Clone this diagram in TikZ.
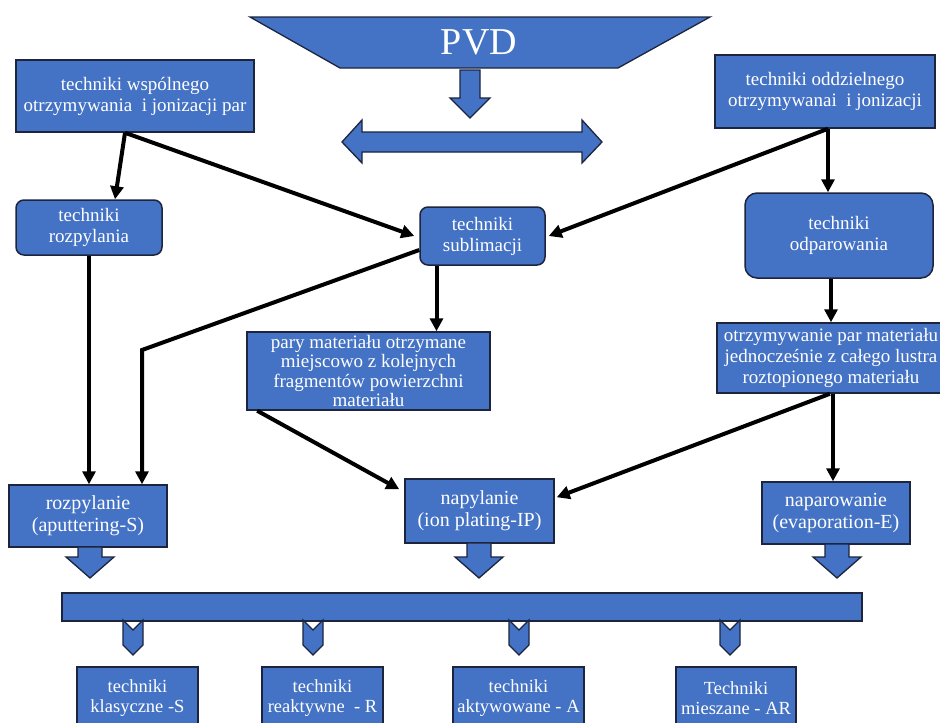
\documentclass[tikz,border=0pt]{standalone}
\usepackage{fontspec}
\setmainfont{Liberation Serif}
\usetikzlibrary{arrows.meta,calc}
\definecolor{boxblue}{RGB}{68,114,196}
\definecolor{boxedge}{RGB}{28,36,62}
\newcommand\fsz[2]{\fontsize{#1}{#2}\selectfont}
\tikzset{
  bx/.style={draw=boxedge, line width=1.5, fill=boxblue, text=white, align=center, inner sep=0, font=\fsz{19}{21}},
  rbx/.style={bx, rounded corners=8},
  sbx/.style={bx, font=\fsz{18.5}{20}},
  shapeblue/.style={draw=boxedge, line width=1.3, fill=boxblue},
  conn/.style={line width=4, -{Triangle[length=13,width=13]}},
}
\begin{document}
\begin{tikzpicture}[x=1pt,y=-1pt]
\useasboundingbox (0,0) rectangle (940,723);
% PVD header
\draw[shapeblue] (250,17) -- (710,17) -- (618,68) -- (340,68) -- cycle;
\node[text=white, font=\fsz{38}{40}] (pvd) at (479,42) {PVD};
\draw[shapeblue] (460,70) -- (480,70) -- (480,98) -- (490,98) -- (470,118) -- (450,98) -- (460,98) -- cycle;
\draw[shapeblue] (342,142) -- (362,120) -- (362,132) -- (582,132) -- (582,120) -- (602,142) -- (582,163) -- (582,152) -- (362,152) -- (362,163) -- cycle;
% boxes
\node[bx, minimum width=238, minimum height=72] (tl) at (135,96) {techniki wspólnego\\otrzymywania \ i jonizacji par};
\node[bx, minimum width=220, minimum height=73] (tr) at (825,91.5) {techniki oddzielnego\\otrzymywanai \ i jonizacji};
\node[rbx, minimum width=146, minimum height=55] (rozp) at (89,227.5) {techniki\\rozpylania};
\node[rbx, minimum width=125, minimum height=58] (sub) at (482.5,236) {techniki\\sublimacji};
\node[bx, rounded corners=12, minimum width=188, minimum height=85] (odpar) at (839,235.5) {techniki\\odparowania};
\node[bx, font=\fsz{19}{19.5}, minimum width=243, minimum height=78] (pary) at (368.5,371) {pary materiału otrzymane\\miejscowo z kolejnych\\fragmentów powierzchni\\materiału};
\node[bx, minimum width=228, minimum height=70] (otrz) at (831,358) {otrzymywanie par materiału\\jednocześnie z całego lustra\\roztopionego materiału};
\node[bx, font=\fsz{20}{22}, minimum width=158, minimum height=62] (rozpyl) at (88,516) {rozpylanie\\(aputtering-S)};
\node[bx, font=\fsz{20}{22}, minimum width=149, minimum height=64] (napyl) at (479.5,511) {napylanie\\(ion plating-IP)};
\node[bx, font=\fsz{20}{22}, minimum width=148, minimum height=62] (napar) at (836,513) {naparowanie\\(evaporation-E)};
% block arrows below middle row
\foreach \cx/\top in {90/547, 479/543, 837/544} {
  \draw[shapeblue] (\cx-12,\top) -- (\cx+12,\top) -- (\cx+12,557) -- (\cx+24,557) -- (\cx,578) -- (\cx-24,557) -- (\cx-12,557) -- cycle;
}
% bar
\node[bx, minimum width=800, minimum height=28] (bar) at (462,607) {};
% chevrons
\foreach \cx in {133,313,519,730} {
  \draw[shapeblue] (\cx-10,620) -- (\cx,630) -- (\cx+10,620) -- (\cx+10,645) -- (\cx,655) -- (\cx-10,645) -- cycle;
}
% bottom boxes
\node[sbx, minimum width=121, minimum height=62] (b1) at (137.5,698) {techniki\\klasyczne -S};
\node[sbx, minimum width=121, minimum height=62] (b2) at (322.5,698) {techniki\\reaktywne \ - R};
\node[sbx, minimum width=131, minimum height=62] (b3) at (518.5,698) {techniki\\aktywowane - A};
\node[sbx, minimum width=120, minimum height=62] (b4) at (736,698) {Techniki\\mieszane - AR};
% connectors
\draw[conn] ([xshift=-10]tl.south) -- ([xshift=26]rozp.north);
\draw[conn] ([xshift=-10]tl.south) -- ([xshift=-5]sub.west);
\draw[conn] ([xshift=3]tr.south) -- ([xshift=-11]odpar.north);
\draw[conn] ([xshift=3]tr.south) -- ([xshift=3]sub.east);
\draw[conn] (rozp.south) -- (rozp.south |- rozpyl.north);
\coordinate (bend) at (142,350);
\draw[conn] ([yshift=-14]sub.west) -- (bend) -- (bend |- rozpyl.north);
\draw[conn] ([xshift=-46]sub.south) -- ([xshift=-46]sub.south |- pary.north);
\draw[conn] ([xshift=11]pary.south west) -- ([xshift=-5,yshift=-11]napyl.north west);
\draw[conn] ([xshift=-1]otrz.south) -- ([xshift=2,yshift=-19]napyl.north east);
\draw[conn] ([xshift=2]otrz.south) -- ([xshift=2]otrz.south |- napar.north);
\draw[conn] ([xshift=-8]odpar.south) -- ([xshift=-8]odpar.south |- otrz.north);
\end{tikzpicture}
\end{document}
